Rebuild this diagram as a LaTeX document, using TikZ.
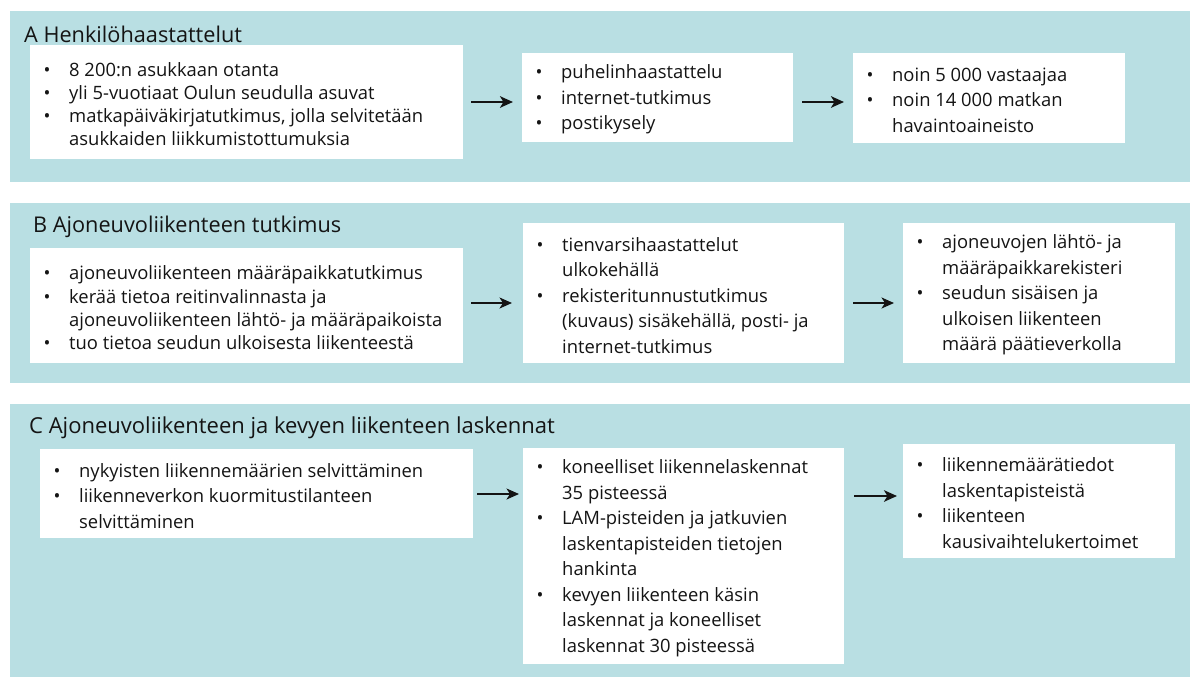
\documentclass[tikz,border=0pt]{standalone}
\usepackage{fontspec}
\setmainfont{Open Sans}
\usetikzlibrary{arrows.meta,calc}
\definecolor{panelcol}{RGB}{185,223,227}
\definecolor{ink}{RGB}{20,20,20}
\newcommand\bi{\makebox[25.5pt][l]{\textbullet}}
\newcommand\ci{\hspace*{25.5pt}}
\begin{document}
\begin{tikzpicture}[x=1pt,y=-1pt,
  panel/.style={fill=panelcol, draw=none, inner sep=0pt, anchor=north west},
  box/.style={fill=white, draw=none, inner sep=0pt, anchor=north west},
  txt/.style={anchor=west, align=left, inner sep=0pt, text=ink, font=\fontsize{18.4}{25.5}\selectfont},
  tight/.style={font=\fontsize{18.4}{23.2}\selectfont},
  ttl/.style={anchor=base west, inner sep=0pt, text=ink, font=\fontsize{21.7}{26}\selectfont},
  arr/.style={-{Stealth[length=13pt,width=11.5pt,inset=3.5pt]}, line width=2.6pt, draw=ink},
  arrthin/.style={-{Stealth[length=12.5pt,width=11pt,inset=3.5pt]}, line width=1.8pt, draw=ink}]
\useasboundingbox (0,0) rectangle (1190,677);
\fill[white] (0,0) rectangle (1190,677);
% panels
\node[panel, minimum width=1180pt, minimum height=171pt] (pa) at (10,11) {};
\node[panel, minimum width=1180pt, minimum height=180pt] (pb) at (10,203) {};
\node[panel, minimum width=1180pt, minimum height=273pt] (pc) at (10,404) {};
% titles
\node[ttl] (ta) at (24,42) {A Henkilöhaastattelut};
\node[ttl] (tb) at (33,232) {B Ajoneuvoliikenteen tutkimus};
\node[ttl, font=\fontsize{22}{26}\selectfont] (tc) at (29,433) {C Ajoneuvoliikenteen ja kevyen liikenteen laskennat};
% boxes
\node[box, minimum width=433pt, minimum height=114pt] (a1) at (30,45) {};
\node[box, minimum width=271pt, minimum height=89pt] (a2) at (522,53) {};
\node[box, minimum width=272pt, minimum height=90pt] (a3) at (853,53) {};
\node[box, minimum width=433pt, minimum height=115pt] (b1) at (30,248) {};
\node[box, minimum width=321pt, minimum height=140pt] (b2) at (523,223) {};
\node[box, minimum width=272pt, minimum height=140pt] (b3) at (903,223) {};
\node[box, minimum width=433pt, minimum height=89pt] (c1) at (40,449) {};
\node[box, minimum width=321pt, minimum height=216pt] (c2) at (523,448) {};
\node[box, minimum width=272pt, minimum height=114pt] (c3) at (903,444) {};
% texts
\node[txt, tight] (a1t) at ($(a1.west)+(13.5,2)$) {\bi 8 200:n asukkaan otanta\\
\bi yli 5-vuotiaat Oulun seudulla asuvat\\
\bi matkapäiväkirjatutkimus, jolla selvitetään\\
\ci asukkaiden liikkumistottumuksia};
\node[txt] (a2t) at ($(a2.west)+(13.5,2)$) {\bi puhelinhaastattelu\\
\bi internet-tutkimus\\
\bi postikysely};
\node[txt] (a3t) at ($(a3.west)+(13.5,2)$) {\bi noin 5 000 vastaajaa\\
\bi noin 14 000 matkan\\
\ci havaintoaineisto};
\node[txt, tight] (b1t) at ($(b1.west)+(13.5,2)$) {\bi ajoneuvoliikenteen määräpaikkatutkimus\\
\bi kerää tietoa reitinvalinnasta ja\\
\ci ajoneuvoliikenteen lähtö- ja määräpaikoista\\
\bi tuo tietoa seudun ulkoisesta liikenteestä};
\node[txt] (b2t) at ($(b2.west)+(13.5,2)$) {\bi tienvarsihaastattelut\\
\ci ulkokehällä\\
\bi rekisteritunnustutkimus\\
\ci (kuvaus) sisäkehällä, posti- ja\\
\ci internet-tutkimus};
\node[txt] (b3t) at ($(b3.west)+(13.5,2)$) {\bi ajoneuvojen lähtö- ja\\
\ci määräpaikkarekisteri\\
\bi seudun sisäisen ja\\
\ci ulkoisen liikenteen\\
\ci määrä päätieverkolla};
\node[txt] (c1t) at ($(c1.west)+(13.5,2)$) {\bi nykyisten liikennemäärien selvittäminen\\
\bi liikenneverkon kuormitustilanteen\\
\ci selvittäminen};
\node[txt] (c2t) at ($(c2.west)+(13.5,2)$) {\bi koneelliset liikennelaskennat\\
\ci 35 pisteessä\\
\bi LAM-pisteiden ja jatkuvien\\
\ci laskentapisteiden tietojen\\
\ci hankinta\\
\bi kevyen liikenteen käsin\\
\ci laskennat ja koneelliset\\
\ci laskennat 30 pisteessä};
\node[txt] (c3t) at ($(c3.west)+(13.5,2)$) {\bi liikennemäärätiedot\\
\ci laskentapisteistä\\
\bi liikenteen\\
\ci kausivaihtelukertoimet};
% arrow rows
\coordinate (ya) at (0,102);
\coordinate (yb) at (0,303);
\coordinate (yc) at (0,494);
\coordinate (yd) at (0,496);
\draw[arr, shorten <=8pt, shorten >=9pt] (a1.east |- ya) -- (a2.west |- ya);
\draw[arr, shorten <=9pt, shorten >=9pt] (a2.east |- ya) -- (a3.west |- ya);
\draw[arrthin, shorten <=8pt, shorten >=11pt] (b1.east |- yb) -- (b2.west |- yb);
\draw[arrthin, shorten <=9pt, shorten >=9pt] (b2.east |- yb) -- (b3.west |- yb);
\draw[arrthin, shorten <=4pt, shorten >=4pt] (c1.east |- yc) -- (c2.west |- yc);
\draw[arr, shorten <=10pt, shorten >=6pt] (c2.east |- yd) -- (c3.west |- yd);
\end{tikzpicture}
\end{document}
